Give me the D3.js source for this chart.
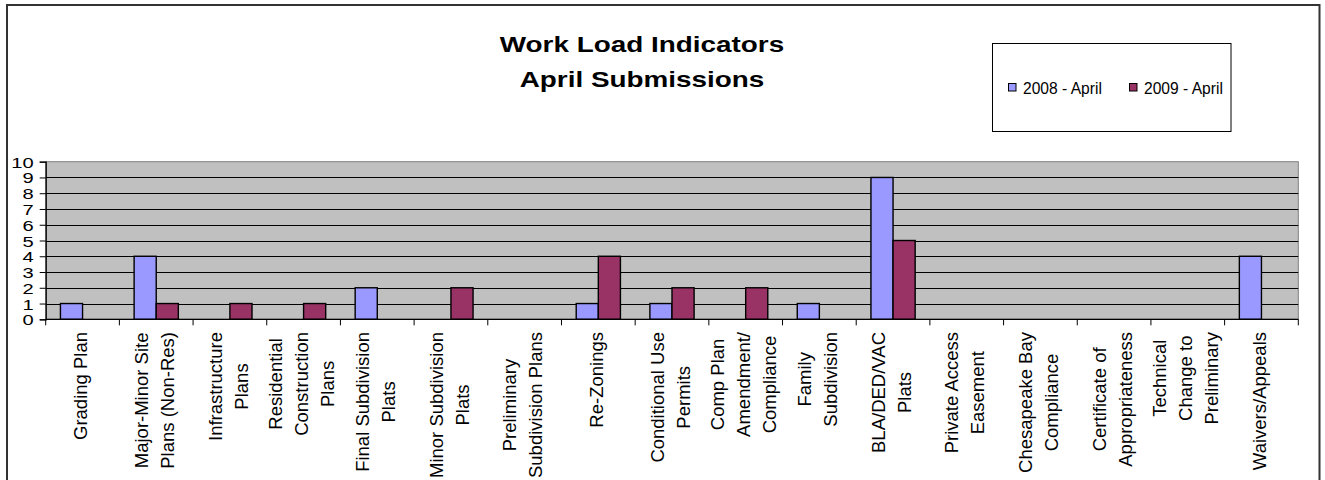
<!DOCTYPE html>
<html><head><meta charset="utf-8">
<script src="https://cdn.jsdelivr.net/npm/d3@7"></script>
<style>body{margin:0;background:#fff;}svg{display:block;font-family:Arial,"Liberation Sans",sans-serif;}</style>
</head><body>
<script>
const categories = [
  ["Grading Plan"],
  ["Major-Minor Site","Plans (Non-Res)"],
  ["Infrastructure","Plans"],
  ["Residential","Construction","Plans"],
  ["Final Subdivision","Plats"],
  ["Minor Subdivision","Plats"],
  ["Preliminary","Subdivision Plans"],
  ["Re-Zonings"],
  ["Conditional Use","Permits"],
  ["Comp Plan","Amendment/","Compliance"],
  ["Family","Subdivision"],
  ["BLA/DED/VAC","Plats"],
  ["Private Access","Easement"],
  ["Chesapeake Bay","Compliance"],
  ["Certificate of","Appropriateness"],
  ["Technical","Change to","Preliminary"],
  ["Waivers/Appeals"]
];
const seriesNames = ["2008 - April","2009 - April"];
const values2008 = [1,4,0,0,2,0,0,1,1,0,1,9,0,0,0,0,4];
const values2009 = [0,1,1,1,0,2,0,4,2,2,0,5,0,0,0,0,0];
const yTicks = [0,1,2,3,4,5,6,7,8,9,10];
const titleLines = ["Work Load Indicators","April Submissions"];
const colors = ["#9999FF","#993366"];

const W = 1325, H = 480;
const svg = d3.select("body").append("svg").attr("width",W).attr("height",H);

// outer border
svg.append("path").attr("d",`M7,${H+5} L7,5 L1319.5,5 L1319.5,${H+5}`)
  .attr("fill","none").attr("stroke","#333").attr("stroke-width",2);

const L = 45.7, R = 1298.3, T = 161.7, B = 319.3;
const idx = d3.range(categories.length);
const x0 = d3.scaleBand().domain(idx).range([L,R]).paddingInner(0.4).paddingOuter(0.2);
const step = x0.step();
const x1 = d3.scaleBand().domain([0,1]).range([0,x0.bandwidth()]);
const y = d3.scaleLinear().domain([0,10]).range([B,T]);

// plot area
svg.append("rect").attr("x",L).attr("y",T).attr("width",R-L).attr("height",B-T)
  .attr("fill","#C0C0C0").attr("stroke","#808080").attr("stroke-width",1);
// gridlines
svg.append("g").selectAll("line").data(yTicks.filter(d=>d>0&&d<10)).join("line")
  .attr("x1",L).attr("x2",R).attr("y1",d=>Math.round(y(d))+0.5).attr("y2",d=>Math.round(y(d))+0.5)
  .attr("stroke","#000").attr("stroke-width",1);

// bars
const data = [];
idx.forEach(i=>{[values2008[i],values2009[i]].forEach((v,s)=>{ if(v>0) data.push({i,s,v}); });});
svg.append("g").selectAll("rect").data(data).join("rect")
  .attr("x",d=>x0(d.i)+x1(d.s)).attr("width",x1.bandwidth())
  .attr("y",d=>y(d.v)).attr("height",d=>y(0)-y(d.v))
  .attr("fill",d=>colors[d.s]).attr("stroke","#000").attr("stroke-width",1.4);

// y axis
const yAxis = d3.axisLeft(y).tickValues(yTicks).tickSize(6).tickFormat(d3.format("d"));
const gy = svg.append("g").attr("transform",`translate(${L},0)`).call(yAxis);
gy.select(".domain").attr("stroke","#000").attr("stroke-width",1.3);
gy.selectAll(".tick line").attr("stroke","#000");
gy.selectAll(".tick text").remove();
gy.selectAll(".tick").append("text")
  .attr("text-anchor","end").attr("fill","#000").attr("font-size",15.5)
  .attr("transform","translate(-12,5.5) scale(1.3,1)")
  .text(d=>d);

// x axis
const gx = svg.append("g");
gx.append("line").attr("x1",L).attr("x2",R).attr("y1",B).attr("y2",B).attr("stroke","#000").attr("stroke-width",1.3);
const bounds = d3.range(categories.length+1).map(k=>L+k*step);
gx.selectAll("line.tk").data(bounds).join("line").attr("class","tk")
  .attr("x1",d=>d).attr("x2",d=>d).attr("y1",B).attr("y2",B+6).attr("stroke","#000");

// x labels
const fs = 18.5, lh = 26, topY = 332;
idx.forEach(i=>{
  const lines = categories[i];
  const cx = x0(i) + x0.bandwidth()/2;
  const g = svg.append("g");
  const texts = lines.map(t=>g.append("text").attr("font-size",fs).attr("fill","#000").attr("text-anchor","middle").text(t));
  const maxLen = d3.max(texts, t=>t.node().getComputedTextLength());
  const cy = topY + maxLen/2;
  const b1 = cx + 4.65 - 13*(lines.length-1);
  texts.forEach((t,k)=>{
    t.attr("transform",`translate(${b1+k*lh},${cy}) rotate(-90)`);
  });
});

// title
svg.append("g").selectAll("text").data(titleLines).join("text")
  .attr("text-anchor","middle").attr("font-weight","bold").attr("font-size",22.3).attr("fill","#000")
  .attr("transform",(d,k)=>`translate(642,${k===0?52:86.5}) scale(1.25,1)`)
  .text(d=>d);

// legend
const lg = svg.append("g");
lg.append("rect").attr("x",992.5).attr("y",43.5).attr("width",238.5).attr("height",88)
  .attr("fill","#fff").attr("stroke","#000").attr("stroke-width",1);
const legX = [1008.5,1129.5];
seriesNames.forEach((n,k)=>{
  lg.append("rect").attr("x",legX[k]).attr("y",83.5).attr("width",7.5).attr("height",7.5)
    .attr("fill",colors[k]).attr("stroke","#000").attr("stroke-width",1);
  lg.append("text").attr("x",legX[k]+14.5).attr("y",94.3).attr("font-size",15.6).attr("fill","#000").text(n);
});
</script>
</body></html>
